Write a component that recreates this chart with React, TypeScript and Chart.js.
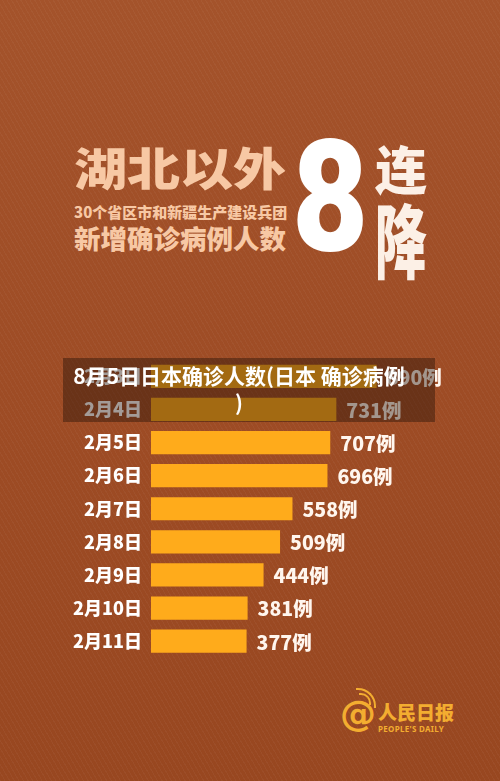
import React, { useEffect, useRef } from "react";
import { Chart, registerables } from "chart.js";

Chart.register(...registerables);

// ---- data ----
const categories = ["2月3日", "2月4日", "2月5日", "2月6日", "2月7日", "2月8日", "2月9日", "2月10日", "2月11日"];
const cases = [890, 731, 707, 696, 558, 509, 444, 381, 377];
const unit = "例";
const xMax = 1300;

const overlayTitle = "8月5日日本确诊人数(日本 确诊病例";
const overlayTitleEnd = ")";

const CJK = "'Noto Sans CJK SC', 'Noto Sans', sans-serif";

const valueLabelPlugin = {
  id: "valueLabels",
  afterDatasetsDraw(chart: any) {
    const ctx = chart.ctx;
    const meta = chart.getDatasetMeta(0);
    ctx.save();
    ctx.font = `900 19.5px ${CJK}`;
    ctx.fillStyle = "#FFF6EE";
    ctx.textAlign = "left";
    ctx.textBaseline = "middle";
    meta.data.forEach((bar: any, i: number) => {
      ctx.fillText(String(cases[i]) + unit, bar.x + 10, bar.y + 1);
    });
    ctx.restore();
  },
};

export default function App() {
  const canvasRef = useRef<HTMLCanvasElement | null>(null);

  useEffect(() => {
    const canvas = canvasRef.current;
    if (!canvas) return;
    const chart = new Chart(canvas, {
      type: "bar",
      data: {
        labels: categories,
        datasets: [
          {
            data: cases,
            backgroundColor: "#FFAB1B",
            borderWidth: 0,
            barPercentage: 0.7,
            categoryPercentage: 1.0,
          },
        ],
      },
      options: {
        indexAxis: "y",
        responsive: false,
        animation: false,
        devicePixelRatio: 1,
        layout: { padding: { top: 17.7, bottom: 22.3, left: 0, right: 19.4 } },
        plugins: {
          legend: { display: false },
          tooltip: { enabled: false },
          title: { display: false },
        },
        scales: {
          x: { display: false, min: 0, max: xMax },
          y: {
            grid: { display: false, drawTicks: false },
            border: { display: false },
            ticks: {
              color: "#FFFFFF",
              padding: 9,
              font: { family: CJK, size: 18, weight: "900" },
            },
            afterFit: (scale: any) => {
              scale.width = 151;
            },
          },
        },
      } as any,
      plugins: [valueLabelPlugin],
    });
    return () => chart.destroy();
  }, []);

  const peach = "#F7C8A4";
  const logo = "#F3AD30";

  return (
    <div
      style={{
        position: "fixed",
        left: 0,
        top: 0,
        width: 500,
        height: 781,
        overflow: "hidden",
        fontFamily: CJK,
        background:
          "repeating-linear-gradient(60deg, rgba(255,255,255,0.035) 0px, rgba(255,255,255,0.035) 1px, rgba(0,0,0,0) 1px, rgba(0,0,0,0) 4px), linear-gradient(180deg, #A4532B 0%, #9E4C25 50%, #984720 100%)",
      }}
    >
      {/* header */}
      <div
        style={{
          position: "absolute",
          left: 74,
          top: 144,
          fontSize: 53,
          lineHeight: "53px",
          fontWeight: 900,
          color: peach,
          whiteSpace: "nowrap",
          transform: "scaleY(0.86)",
          transformOrigin: "left top",
        }}
      >
        湖北以外
      </div>
      <div
        style={{
          position: "absolute",
          left: 74,
          top: 203,
          fontSize: 15,
          lineHeight: "18px",
          fontWeight: 900,
          color: peach,
          whiteSpace: "nowrap",
        }}
      >
        30个省区市和新疆生产建设兵团
      </div>
      <div
        style={{
          position: "absolute",
          left: 74,
          top: 222,
          fontSize: 26.5,
          lineHeight: "32px",
          fontWeight: 900,
          color: peach,
          whiteSpace: "nowrap",
        }}
      >
        新增确诊病例人数
      </div>
      <div
        style={{
          position: "absolute",
          left: 292,
          top: 120,
          fontSize: 155,
          lineHeight: "155px",
          fontWeight: 900,
          fontFamily: "Roboto, 'DejaVu Sans', sans-serif",
          color: "#FFFFFF",
          transform: "scaleX(0.85)",
          transformOrigin: "left top",
        }}
      >
        8
      </div>
      <div
        style={{
          position: "absolute",
          left: 375,
          top: 142,
          fontSize: 52,
          lineHeight: "52px",
          fontWeight: 900,
          color: "#FCF0E6",
        }}
      >
        连
      </div>
      <div
        style={{
          position: "absolute",
          left: 375,
          top: 198,
          fontSize: 52,
          lineHeight: "52px",
          fontWeight: 900,
          color: "#FCF0E6",
          transform: "scaleY(1.55)",
          transformOrigin: "left top",
        }}
      >
        降
      </div>

      {/* chart */}
      <canvas
        ref={canvasRef}
        width={500}
        height={340}
        style={{ position: "absolute", left: 0, top: 340, width: 500, height: 340 }}
      />

      {/* overlay caption */}
      <div
        style={{
          position: "absolute",
          left: 63,
          top: 358,
          width: 372,
          height: 64,
          background: "rgba(35,16,6,0.42)",
        }}
      />
      <div
        style={{
          position: "absolute",
          left: 53,
          top: 362,
          width: 372,
          textAlign: "center",
          fontSize: 21,
          lineHeight: "27px",
          fontWeight: 700,
          color: "#FFFFFF",
        }}
      >
        {overlayTitle}
        <br />
        {overlayTitleEnd}
      </div>

      {/* logo */}
      <div
        style={{
          position: "absolute",
          left: 340,
          top: 694,
          fontSize: 36,
          lineHeight: "40px",
          fontWeight: 700,
          fontFamily: "'DejaVu Sans', sans-serif",
          color: logo,
        }}
      >
        @
      </div>
      <div
        style={{
          position: "absolute",
          left: 356,
          top: 688,
          width: 18,
          height: 18,
          borderTop: `2px solid ${logo}`,
          borderRight: `2px solid ${logo}`,
          borderRadius: "0 18px 0 0",
        }}
      />
      <div
        style={{
          position: "absolute",
          left: 359,
          top: 693,
          width: 10,
          height: 10,
          borderTop: `2px solid ${logo}`,
          borderRight: `2px solid ${logo}`,
          borderRadius: "0 10px 0 0",
        }}
      />
      <div
        style={{
          position: "absolute",
          left: 378,
          top: 701,
          fontSize: 19,
          lineHeight: "22px",
          fontWeight: 900,
          color: logo,
          whiteSpace: "nowrap",
        }}
      >
        人民日报
      </div>
      <div
        style={{
          position: "absolute",
          left: 378,
          top: 724,
          fontSize: 8,
          lineHeight: "10px",
          fontWeight: 700,
          fontFamily: "'Noto Sans', sans-serif",
          letterSpacing: "0.3px",
          color: logo,
          whiteSpace: "nowrap",
        }}
      >
        PEOPLE'S DAILY
      </div>
    </div>
  );
}
